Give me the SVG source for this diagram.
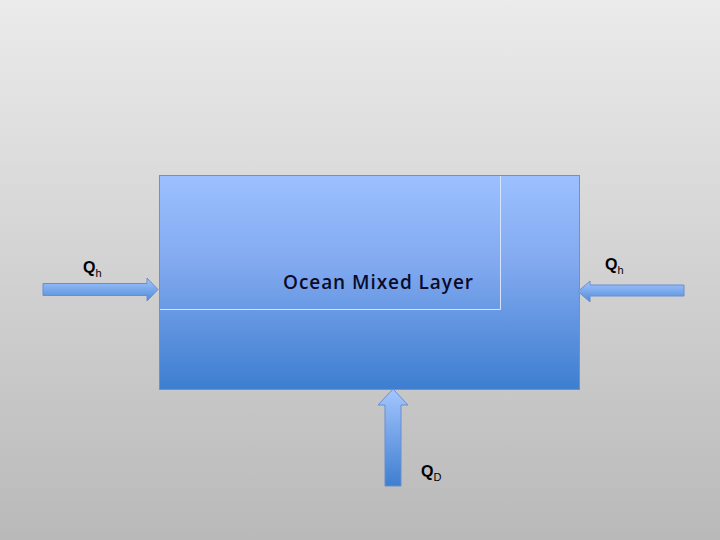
<svg xmlns="http://www.w3.org/2000/svg" width="720" height="540" viewBox="0 0 720 540">
<defs>
<linearGradient id="bg" x1="0" y1="0" x2="0" y2="1">
<stop offset="0" stop-color="#ebebeb"/>
<stop offset="1" stop-color="#b9b9b9"/>
</linearGradient>
<linearGradient id="blue" x1="0" y1="0" x2="0" y2="1">
<stop offset="0" stop-color="#9cc0ff"/>
<stop offset="0.4" stop-color="#83aaf0"/>
<stop offset="1" stop-color="#3d7ed0"/>
</linearGradient>
<linearGradient id="arrowH" x1="0" y1="0" x2="0" y2="1">
<stop offset="0" stop-color="#a4c6ff"/>
<stop offset="1" stop-color="#4f8ad8"/>
</linearGradient>
<linearGradient id="arrowV" x1="0" y1="0" x2="0" y2="1">
<stop offset="0" stop-color="#a4c6ff"/>
<stop offset="1" stop-color="#3f7ed0"/>
</linearGradient>
</defs>
<style>
.q{font-family:"Liberation Sans",Arial,sans-serif;font-weight:bold;font-size:16px;fill:#000}
.sub{font-family:"Liberation Sans",Arial,sans-serif;font-weight:normal;font-size:11px;fill:#000}
.arrow{stroke:#6a8ed0;stroke-width:1}
</style>
<rect x="0" y="0" width="720" height="540" fill="url(#bg)"/>
<g id="ocean">
<rect x="159.5" y="175.5" width="420" height="214" fill="url(#blue)" stroke="#6f8fcf" stroke-width="1"/>
<polyline points="160,309.5 500.5,309.5 500.5,176" fill="none" stroke="#d6e4ff" stroke-width="1"/>
<text x="378" y="289" font-family="'Open Sans','Liberation Sans',sans-serif" font-size="19" font-weight="600" fill="#0b0b2a" text-anchor="middle" textLength="190">Ocean Mixed Layer</text>
</g>
<g id="connectors">
<polygon class="arrow" fill="url(#arrowH)" points="43,283.5 147,283.5 147,278 158,289.5 147,301 147,295.5 43,295.5"/>
<polygon class="arrow" fill="url(#arrowH)" points="684,285 590,285 590,281 578,291.5 590,302 590,296 684,296"/>
<polygon class="arrow" fill="url(#arrowV)" points="393,389 408,405 401,405 401,486 385,486 385,405 378,405"/>
</g>
<g id="label-qh-left"><text class="q" x="83" y="273">Q<tspan class="sub" dy="4">h</tspan></text></g>
<g id="label-qh-right"><text class="q" x="605" y="270">Q<tspan class="sub" dy="4">h</tspan></text></g>
<g id="label-qd"><text class="q" x="421" y="477">Q<tspan class="sub" dy="4">D</tspan></text></g>
</svg>
